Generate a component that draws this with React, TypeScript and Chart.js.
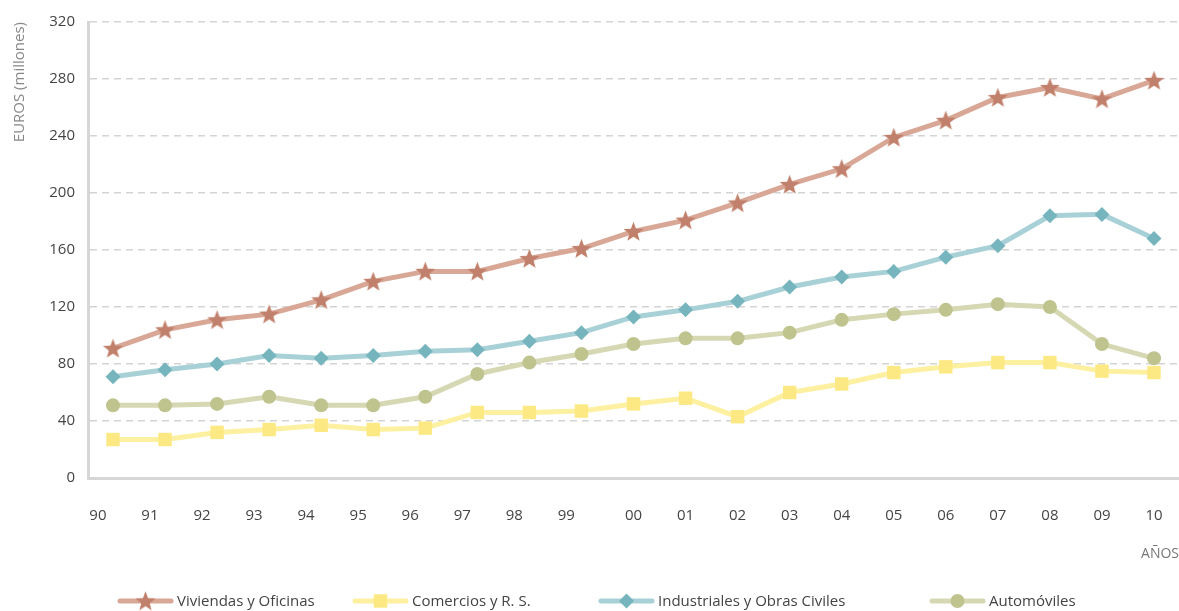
import React, { useEffect, useRef } from "react";
import { Chart, registerables } from "chart.js";

Chart.register(...registerables);

const xLabels = ["90","91","92","93","94","95","96","97","98","99","00","01","02","03","04","05","06","07","08","09","10"];
const viviendas = [91,104,111,115,125,138,145,145,154,161,173,181,193,206,217,239,251,267,274,266,279];
const comercios = [27,27,32,34,37,34,35,46,46,47,52,56,43,60,66,74,78,81,81,75,74];
const industriales = [71,76,80,86,84,86,89,90,96,102,113,118,124,134,141,145,155,163,184,185,168];
const automoviles = [51,51,52,57,51,51,57,73,81,87,94,98,98,102,111,115,118,122,120,94,84];
const seriesNames = ["Viviendas y Oficinas","Comercios y R. S.","Industriales y Obras Civiles","Automóviles"];
const yTicks = [0,40,80,120,160,200,240,280,320];

const FONT = "'Open Sans', 'Noto Sans', sans-serif";

function makeStar(color: string, size: number) {
  const c = document.createElement("canvas");
  c.width = size; c.height = size;
  const ctx = c.getContext("2d")!;
  const cx = size / 2, cy = size / 2 + 0.8, R = size / 2, r = R * 0.42;
  ctx.beginPath();
  for (let i = 0; i < 10; i++) {
    const rad = i % 2 === 0 ? R : r;
    const a = -Math.PI / 2 + (i * Math.PI) / 5;
    const x = cx + rad * Math.cos(a), y = cy + rad * Math.sin(a);
    if (i === 0) ctx.moveTo(x, y); else ctx.lineTo(x, y);
  }
  ctx.closePath();
  ctx.fillStyle = color;
  ctx.fill();
  return c;
}

const legendX = [118, 353, 599, 930];

export default function App() {
  const ref = useRef<HTMLCanvasElement | null>(null);
  useEffect(() => {
    if (!ref.current) return;
    const star = makeStar("#c1806b", 21);
    const mk = (vals: number[]) => vals.map((v, i) => ({ x: i, y: v }));
    const legendPlugin = {
      id: "customLegend",
      afterDraw(chart: any) {
        const ctx = chart.ctx;
        const y = 601;
        chart.data.datasets.forEach((ds: any, i: number) => {
          const x0 = legendX[i];
          ctx.save();
          ctx.strokeStyle = ds.borderColor;
          ctx.lineWidth = 5;
          ctx.lineCap = "round";
          ctx.beginPath();
          ctx.moveTo(x0 + 2, y);
          ctx.lineTo(x0 + 53, y);
          ctx.stroke();
          const mx = x0 + 27.5;
          const r = ds.pointRadius;
          ctx.fillStyle = ds.pointBackgroundColor;
          if (ds.pointStyle instanceof HTMLCanvasElement) {
            ctx.drawImage(ds.pointStyle, mx - ds.pointStyle.width / 2, y - ds.pointStyle.height / 2);
          } else if (ds.pointStyle === "rect") {
            const s = r * Math.SQRT1_2;
            ctx.fillRect(mx - s, y - s, 2 * s, 2 * s);
          } else if (ds.pointStyle === "rectRot") {
            ctx.beginPath();
            ctx.moveTo(mx - r, y); ctx.lineTo(mx, y - r); ctx.lineTo(mx + r, y); ctx.lineTo(mx, y + r);
            ctx.closePath(); ctx.fill();
          } else {
            ctx.beginPath(); ctx.arc(mx, y, r, 0, Math.PI * 2); ctx.fill();
          }
          ctx.fillStyle = "#444";
          ctx.font = `15px ${FONT}`;
          ctx.textBaseline = "middle";
          ctx.textAlign = "left";
          ctx.fillText(ds.label, x0 + 59, y + 1);
          ctx.restore();
        });
      },
    };
    const common = { borderWidth: 5, fill: false, tension: 0, pointBorderWidth: 0, pointHoverRadius: 8, clip: false };
    const chart = new Chart(ref.current, {
      type: "line",
      data: {
        datasets: [
          { ...common, label: seriesNames[0], data: mk(viviendas), borderColor: "#d9a796", pointBackgroundColor: "#c1806b", pointBorderColor: "#c1806b", pointStyle: star, pointRadius: 10 },
          { ...common, label: seriesNames[1], data: mk(comercios), borderColor: "#fdf0a0", pointBackgroundColor: "#fde984", pointBorderColor: "#fde984", pointStyle: "rect", pointRadius: 9.5 },
          { ...common, label: seriesNames[2], data: mk(industriales), borderColor: "#a8d1d7", pointBackgroundColor: "#77b5be", pointBorderColor: "#77b5be", pointStyle: "rectRot", pointRadius: 7.5 },
          { ...common, label: seriesNames[3], data: mk(automoviles), borderColor: "#d5d8b2", pointBackgroundColor: "#bfc48e", pointBorderColor: "#bfc48e", pointStyle: "circle", pointRadius: 7 },
        ] as any,
      },
      options: {
        animation: false,
        responsive: false,
        events: [],
        layout: { autoPadding: false, padding: { top: 20, right: 0, bottom: 49, left: 0 } },
        plugins: { legend: { display: false }, tooltip: { enabled: false } },
        scales: {
          x: {
            type: "linear",
            min: -0.48,
            max: 20.48,
            afterBuildTicks: (scale: any) => {
              scale.ticks = xLabels.map((_, i) => ({ value: i < 10 ? i - 0.29 : i }));
            },
            afterFit: (scale: any) => {
              scale.height = 84;
            },
            ticks: {
              autoSkip: false,
              maxRotation: 0,
              padding: 0,
              color: "#444",
              font: { family: FONT, size: 15, lineHeight: 5.07 },
              callback: (_v: any, i: number) => xLabels[i],
            },
            grid: { display: false, drawTicks: false },
            border: { display: true, color: "#d6d6d6", width: 3 },
            title: {
              display: true,
              text: "AÑOS",
              align: "end",
              color: "#777",
              font: { family: FONT, size: 14 },
              padding: { top: 2, bottom: 0 },
            },
          },
          y: {
            min: 0,
            max: 320,
            afterBuildTicks: (scale: any) => { scale.ticks = yTicks.map((v) => ({ value: v })); },
            afterFit: (scale: any) => {
              scale.width = 88;
            },
            ticks: {
              padding: 13,
              color: "#444",
              font: { family: FONT, size: 15 },
            },
            grid: { color: "#d4d4d4", lineWidth: 1.5, drawTicks: false },
            border: { display: true, color: "#d6d6d6", width: 3, dash: [7, 5] },
            title: {
              display: true,
              text: "EUROS (millones)",
              align: "end",
              color: "#888",
              font: { family: FONT, size: 15 },
              padding: { top: 11, bottom: 0 },
            },
          },
        },
      } as any,
      plugins: [legendPlugin],
    });
    return () => chart.destroy();
  }, []);
  return (
    <div style={{ position: "fixed", left: 0, top: 0, width: 1179, height: 611, background: "#fff" }}>
      <canvas ref={ref} width={1179} height={611} />
    </div>
  );
}
